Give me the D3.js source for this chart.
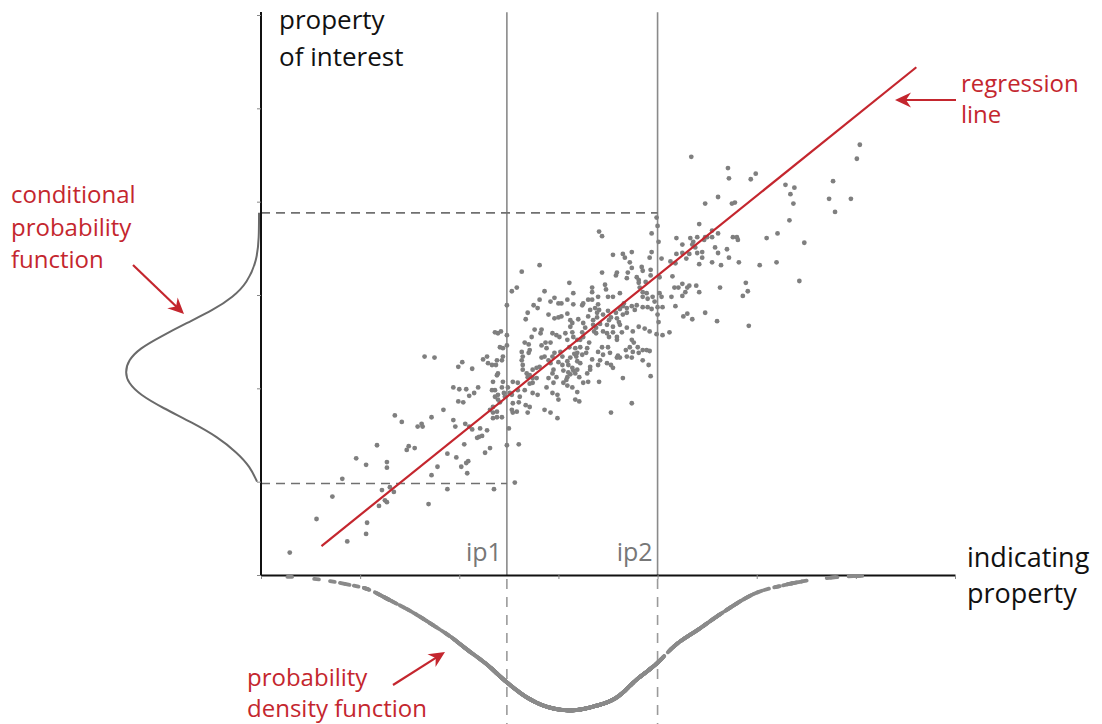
<!DOCTYPE html>
<html>
<head>
<meta charset="utf-8">
<script src="https://cdn.jsdelivr.net/npm/d3@7"></script>
<style>
  html, body { margin: 0; padding: 0; background: #fff; }
  svg { display: block; font-family: "Open Sans", "Noto Sans", sans-serif; }
</style>
</head>
<body>
<svg id="chart" width="1102" height="724"></svg>
<script>
// tick positions (unlabelled) on both axes
const xTicks = [0, 1, 2, 3, 4, 5, 6, 7];
const yTicks = [0, 1, 2, 3, 4, 5, 6];

// indicating property values ip1 / ip2
const ipLabels = ['ip1', 'ip2'];
const ipValues = [2.48, 4.00];

// bounds of the conditional distribution (property of interest)
const condBounds = [0.98, 3.88];

// regression line end points [x, y]
const regLine = [[0.61, 0.31], [6.61, 5.44]];

// conditional probability function: [depth (x, negative), y]
const condCurve = [
  [-0.02, 3.88], [-0.02, 3.62], [-0.04, 3.37], [-0.14, 3.13], [-0.28, 2.98],
  [-0.48, 2.84], [-0.75, 2.70], [-1.02, 2.55], [-1.22, 2.43], [-1.34, 2.30],
  [-1.37, 2.17], [-1.34, 2.06], [-1.22, 1.93], [-0.99, 1.79], [-0.69, 1.63],
  [-0.44, 1.48], [-0.24, 1.31], [-0.11, 1.16], [-0.04, 1.00]
];

// probability density function below the x axis: x and (negative) height
const pdfX = [0.29, 0.60, 0.87, 1.07, 1.30, 1.53, 1.74, 1.91, 2.08, 2.28, 2.48, 2.68, 2.88,
  3.12, 3.35, 3.59, 3.79, 4.00, 4.16, 4.43, 4.66, 5.00, 5.27, 5.57, 5.84, 6.04];
const pdfY = [-0.02, -0.05, -0.10, -0.15, -0.27, -0.40, -0.54, -0.66, -0.80, -0.96, -1.15, -1.31, -1.41,
  -1.45, -1.41, -1.31, -1.12, -0.94, -0.77, -0.57, -0.40, -0.19, -0.11, -0.05, -0.02, -0.01];

// scatter samples [indicating property, property of interest]
const samples = [
  [1.65,2.34],[1.75,2.33],[1.99,2.23],[2.03,2.28],[2.13,2.21],[2.24,2.31],
  [1.94,2.01],[2.00,1.99],[2.07,1.99],[2.15,1.95],[2.19,2.01],[1.99,1.86],[2.04,1.85],[2.10,1.92],
  [1.84,1.77],[1.94,1.66],[1.96,1.59],[2.06,1.62],[2.10,1.59],[1.72,1.69],[1.35,1.71],[1.42,1.64],
  [1.58,1.59],[1.62,1.62],[1.63,1.59],[2.13,1.56],[2.21,1.57],[2.18,1.47],[2.20,1.48],[2.23,1.49],
  [2.28,1.55],[2.50,1.57],[2.05,1.40],[2.31,1.36],[2.26,1.31],[2.48,1.39],[2.60,1.40],
  [1.17,1.39],[1.47,1.34],[1.49,1.38],[1.55,1.36],[0.96,1.25],[1.06,1.18],[1.27,1.21],[1.27,1.15],
  [1.88,1.30],[1.97,1.26],[2.02,1.16],[2.07,1.20],[2.09,1.22],[2.08,1.09],[1.78,1.16],[1.72,1.07],
  [0.82,1.03],[0.72,0.84],[1.22,0.91],[1.25,0.80],[1.27,0.78],[1.30,0.94],[1.34,0.89],[1.19,0.74],
  [1.88,0.92],[1.69,0.76],[2.35,0.92],[2.56,0.99],[0.56,0.60],[1.07,0.56],[1.06,0.44],[0.87,0.36],
  [0.29,0.24],[2.48,2.89],[2.42,2.61],
  [3.99,3.83],[4.00,3.74],[3.41,3.68],[3.44,3.63],[3.94,3.66],[4.01,3.57],[2.81,3.32],[2.63,3.25],
  [3.55,3.43],[3.65,3.44],[3.74,3.46],[3.67,3.40],[3.94,3.46],[3.92,3.40],[4.04,3.39],
  [3.72,3.35],[3.74,3.29],[3.70,3.24],[3.84,3.30],[3.85,3.26],[3.93,3.27],[3.93,3.21],[4.02,3.19],
  [3.44,3.24],[3.58,3.21],[3.59,3.24],[3.69,3.18],[3.79,3.19],[3.81,3.16],[3.81,3.13],[3.88,3.14],
  [3.11,3.13],[3.15,3.02],[2.53,3.04],[2.58,3.08],
  [3.34,3.08],[3.34,3.03],[3.40,2.98],[3.47,3.11],[3.48,3.06],[3.50,2.98],[3.55,2.98],[3.62,3.02],
  [3.82,3.08],[3.85,3.03],[3.89,3.02],[3.85,2.98],[3.90,2.96],[3.95,2.98],[3.97,2.93],[4.02,3.02],
  [4.04,2.98],[4.00,2.87],[4.05,2.87],[2.86,3.04],
  [2.81,2.95],[2.75,2.89],[2.79,2.86],[2.69,2.81],[2.67,2.74],[2.92,2.93],[2.96,2.97],[3.00,2.91],
  [3.03,2.91],[3.09,2.95],[3.15,2.90],[3.24,2.89],[3.25,2.91],[3.30,2.95],[3.34,2.95],[3.40,2.90],
  [2.90,2.79],[2.96,2.75],[3.00,2.76],[3.03,2.77],[3.09,2.80],[3.14,2.70],[3.20,2.74],
  [3.30,2.77],[3.32,2.84],[3.37,2.86],[3.39,2.81],[3.39,2.76],[3.41,2.84],[3.45,2.79],[3.50,2.83],
  [3.53,2.76],[3.58,2.81],[3.62,2.85],[3.65,2.88],[3.69,2.86],[3.69,2.81],[3.66,2.91],[3.74,2.88],
  [3.77,2.84],[3.79,2.89],[3.85,2.87],[3.90,2.87],[3.94,2.85],[4.00,2.79],[4.01,2.71],
  [3.59,2.75],[3.61,2.71],[3.62,2.68],[3.65,2.79],
  [3.25,2.70],[3.27,2.65],[3.35,2.73],[3.35,2.68],[3.36,2.61],[3.38,2.65],[3.38,2.59],[3.42,2.69],
  [3.45,2.61],[3.49,2.68],[3.51,2.73],[3.55,2.66],
  [3.49,2.59],[3.51,2.55],[3.55,2.60],[3.59,2.55],[3.59,2.52],[3.64,2.60],[3.69,2.65],[3.75,2.61],
  [3.81,2.66],[3.87,2.64],[3.92,2.61],[3.99,2.58],[4.05,2.57],
  [3.74,2.52],[3.76,2.49],[3.80,2.44],[3.72,2.44],[3.68,2.41],[3.75,2.39],[3.81,2.38],[3.85,2.41],
  [3.89,2.41],[3.92,2.40],[3.69,2.34],[3.74,2.33],
  [3.50,2.44],[3.44,2.44],[3.45,2.36],[3.42,2.30],[3.52,2.38],[3.40,2.39],
  [3.29,2.43],[3.31,2.49],[3.28,2.38],[3.24,2.36],[3.34,2.31],[3.32,2.23],[3.40,2.25],
  [3.49,2.27],[3.53,2.25],[3.55,2.22],[3.60,2.35],[3.59,2.33],[3.62,2.33],
  [3.85,2.30],[3.91,2.25],[3.93,2.13],[3.65,2.11],[3.74,1.84],[3.53,1.74],
  [3.12,2.73],[3.12,2.66],[3.14,2.60],[3.15,2.55],[3.19,2.52],[3.22,2.52],[3.24,2.60],[3.25,2.55],[3.22,2.44],
  [3.07,2.59],[3.09,2.52],[3.11,2.44],[3.17,2.43],[3.19,2.38],[3.16,2.37],[3.18,2.34],[3.12,2.33],
  [3.09,2.29],[3.19,2.29],[3.22,2.27],[3.19,2.20],[3.15,2.19],[3.17,2.16],[3.21,2.12],[3.12,2.15],
  [3.09,2.12],[3.10,2.17],[3.14,2.22],[3.10,2.25],
  [3.04,2.34],[3.02,2.39],[3.00,2.28],[3.04,2.25],[3.05,2.19],[3.08,2.09],[3.05,2.06],[3.09,2.03],
  [3.14,2.01],[3.19,1.96],[3.25,2.06],[3.30,2.07],[3.29,2.16],[3.32,2.20],[3.41,2.07],
  [3.17,1.88],[3.21,1.86],
  [2.98,2.12],[2.95,2.20],[2.92,2.27],[2.94,2.34],[2.96,2.38],[2.92,2.49],[2.94,2.59],[2.98,2.57],
  [3.01,2.55],[2.87,2.49],[2.83,2.46],
  [2.88,2.43],[2.86,2.34],[2.90,2.30],[2.83,2.33],[2.81,2.23],[2.78,2.22],[2.74,2.20],
  [2.73,2.55],[2.76,2.63],[2.82,2.59],[2.83,2.63],[2.71,2.41],[2.70,2.38],
  [2.64,2.34],[2.63,2.30],[2.64,2.25],[2.63,2.39],[2.66,2.49],[2.70,2.47],
  [2.64,2.20],[2.68,2.16],[2.71,2.14],[2.69,2.12],[2.74,2.11],[2.78,2.11],[2.74,2.06],[2.71,2.05],
  [2.90,2.11],[2.94,2.16],[2.95,2.06],[2.88,2.01],[2.94,1.95],[2.99,1.93],[3.00,1.88],[2.99,1.68],
  [2.92,1.74],[2.86,1.77],[2.79,1.93],[2.74,1.95],[2.71,1.80],[2.69,1.74],[2.67,1.82],[2.60,1.85],
  [2.54,1.84],[2.53,1.77],[2.58,1.75],[2.54,1.74],[2.61,1.91],[2.66,1.98],[2.59,2.06],[2.59,1.98],
  [2.54,2.07],[2.49,2.01],[2.51,1.95],[2.53,1.93],
  [2.48,2.57],[2.48,2.46],[2.44,2.34],[2.43,2.30],[2.38,2.30],[2.37,2.25],[2.33,2.25],[2.29,2.27],
  [2.28,2.34],[2.39,2.59],[2.36,2.60],[2.41,2.44],[2.44,2.43],[2.39,2.16],[2.38,2.14],[2.34,2.07],
  [2.33,1.98],[2.36,1.98],[2.43,2.01],[2.44,2.07],[2.45,1.95],[2.46,1.91],[2.39,1.93],[2.36,1.91],
  [2.39,1.88],[2.41,1.85],[2.34,1.80],[2.31,1.77],[2.34,1.74],[2.38,1.75],[2.43,1.69],[2.38,1.69],
  [2.34,1.68],
  [4.34,4.48],[4.71,4.36],[4.72,4.25],[4.94,4.24],[4.99,4.30],[4.61,4.05],[4.48,3.98],[4.75,3.98],
  [4.78,3.99],[4.42,3.76],
  [4.55,3.69],[4.61,3.66],[4.50,3.62],[4.47,3.59],[4.48,3.62],[4.55,3.62],[4.40,3.62],[4.33,3.61],
  [4.36,3.57],[4.35,3.54],[4.38,3.51],[4.19,3.61],[4.25,3.54],
  [4.76,3.62],[4.80,3.62],[4.81,3.59],[4.58,3.51],[4.61,3.45],[4.70,3.49],[4.72,3.40],
  [4.45,3.46],[4.45,3.40],[4.40,3.45],[4.32,3.44],[4.29,3.39],[4.25,3.45],[4.19,3.44],[4.13,3.36],
  [4.18,3.34],[4.42,3.33],[4.55,3.35],[4.64,3.32],
  [4.82,3.35],[5.10,3.61],[5.21,3.66],[5.03,3.32],[5.20,3.35],
  [5.29,4.18],[5.34,4.08],[5.38,4.15],[5.37,3.98],[5.33,3.80],
  [5.77,4.22],[5.73,4.03],[5.79,3.89],[5.95,4.03],[6.04,4.61],[6.01,4.46],[5.48,3.56],[5.43,3.15],
  [4.15,3.20],[4.17,3.08],[4.21,3.08],[4.14,2.98],[4.18,2.88],[4.25,3.12],[4.28,3.03],[4.30,3.08],
  [4.32,3.10],[4.25,2.99],[4.39,3.10],[4.42,3.03],[4.63,3.08],[4.48,2.81],[4.26,2.77],[4.30,2.80],
  [4.35,2.74],[4.60,2.72],[4.89,3.13],[4.91,3.04],[4.86,2.99],[4.92,2.67],[4.12,2.60]
];

const W = 1102, H = 724;
const red = '#c4262e';
const svg = d3.select('#chart');

const x = d3.scaleLinear().domain([0, 7]).range([261, 955]);
const y = d3.scaleLinear().domain([0, 6]).range([575, 15]);

// vertical lines at ip1 / ip2 (solid above the axis, dashed below)
const ipG = svg.append('g');
ipG.selectAll('.ip-solid')
  .data(ipValues)
  .enter()
  .append('line')
  .attr('x1', d => x(d)).attr('x2', d => x(d))
  .attr('y1', y(0)).attr('y2', y(6.03))
  .attr('stroke', '#8a8a8a')
  .attr('stroke-width', 1.6);

ipG.selectAll('.ip-dash')
  .data(ipValues)
  .enter()
  .append('line')
  .attr('x1', d => x(d)).attr('x2', d => x(d))
  .attr('y1', y(0) + 4).attr('y2', H)
  .attr('stroke', '#9a9a9a')
  .attr('stroke-width', 1.6)
  .attr('stroke-dasharray', '10,8');

ipG.selectAll('.ip-label')
  .data(ipValues)
  .enter()
  .append('text')
  .attr('x', d => x(d) - 5)
  .attr('y', 561)
  .attr('text-anchor', 'end')
  .attr('font-size', 25)
  .attr('fill', '#777')
  .text((d, i) => ipLabels[i]);

// dashed horizontal bounds
svg.selectAll('.bound')
  .data(condBounds)
  .enter()
  .append('line')
  .attr('x1', x(0)).attr('x2', (d, i) => x(ipValues[i]))
  .attr('y1', d => y(d)).attr('y2', d => y(d))
  .attr('stroke', '#707070')
  .attr('stroke-width', 1.6)
  .attr('stroke-dasharray', '9,6');

// axes
const xAxis = svg.append('g')
  .attr('transform', `translate(0,${y(0)})`)
  .call(d3.axisBottom(x).tickValues(xTicks).tickSize(4).tickSizeOuter(0).tickFormat(''));
const yAxis = svg.append('g')
  .attr('transform', `translate(${x(0)},0)`)
  .call(d3.axisLeft(y).tickValues(yTicks).tickSize(4).tickSizeOuter(0).tickFormat(''));
[xAxis, yAxis].forEach(g => {
  g.select('.domain').attr('stroke', '#111').attr('stroke-width', 2);
  g.selectAll('.tick line').attr('stroke', '#888').attr('stroke-width', 1);
});
yAxis.select('.domain').attr('d', `M0,${y(0) + 1}V12`);

// conditional probability function
svg.append('path')
  .datum(condCurve)
  .attr('d', d3.line().x(d => x(d[0])).y(d => y(d[1])).curve(d3.curveBasis))
  .attr('fill', 'none')
  .attr('stroke', '#6a6a6a')
  .attr('stroke-width', 2);

// scatter points
svg.append('g')
  .selectAll('circle')
  .data(samples)
  .enter()
  .append('circle')
  .attr('cx', d => x(d[0]))
  .attr('cy', d => y(d[1]))
  .attr('r', 2.4)
  .attr('fill', '#7f7f7f');

// regression line
svg.append('line')
  .attr('x1', x(regLine[0][0])).attr('y1', y(regLine[0][1]))
  .attr('x2', x(regLine[1][0])).attr('y2', y(regLine[1][1]))
  .attr('stroke', red)
  .attr('stroke-width', 2.2);

// density function: smooth the read-off pdf, then project every sample onto it as a short dash
const pdfPath = svg.append('path')
  .datum(d3.zip(pdfX, pdfY))
  .attr('d', d3.line().x(d => x(d[0])).y(d => y(d[1])).curve(d3.curveMonotoneX))
  .attr('fill', 'none')
  .attr('stroke', 'none');
const node = pdfPath.node();
const total = node.getTotalLength();
const px = [], py = [];
for (let l = 0; l <= total; l += 1) {
  const p = node.getPointAtLength(l);
  if (px.length && p.x <= px[px.length - 1]) continue;
  px.push(p.x); py.push(p.y);
}
const pdfAt = d3.scaleLinear().domain(px).range(py).clamp(true);

svg.append('g')
  .selectAll('line')
  .data(samples)
  .enter()
  .append('line')
  .each(function (d) {
    const cx = x(d[0]), cy = pdfAt(cx);
    const dy = pdfAt(cx + 2) - pdfAt(cx - 2);
    const len = Math.hypot(4, dy);
    const ux = 4 / len * 2.4, uy = dy / len * 2.4;
    d3.select(this)
      .attr('x1', cx - ux).attr('y1', cy - uy)
      .attr('x2', cx + ux).attr('y2', cy + uy);
  })
  .attr('stroke', '#8a8a8a')
  .attr('stroke-width', 3.8)
  .attr('stroke-linecap', 'round');

// text labels
function label(lines, x0, y0, size, color, lh) {
  const t = svg.append('text')
    .attr('x', x0).attr('y', y0)
    .attr('font-size', size)
    .attr('fill', color);
  lines.forEach((s, i) => {
    t.append('tspan').attr('x', x0).attr('dy', i === 0 ? 0 : lh).text(s);
  });
}
label(['property', 'of interest'], 279, 29, 26, '#111', 37);
label(['indicating', 'property'], 967, 567, 27, '#111', 36);
label(['regression', 'line'], 961, 92, 24, red, 31);
label(['conditional', 'probability', 'function'], 11, 203, 24, red, 32.5);
label(['probability', 'density function'], 247, 686, 24, red, 31);

// red arrows
function arrow(x1, y1, x2, y2) {
  const a = Math.atan2(y2 - y1, x2 - x1);
  const bx = x2 - Math.cos(a) * 10, by = y2 - Math.sin(a) * 10;
  svg.append('line')
    .attr('x1', x1).attr('y1', y1).attr('x2', bx).attr('y2', by)
    .attr('stroke', red).attr('stroke-width', 2.2);
  svg.append('path')
    .attr('d', 'M0,0L-16,-7.5L-11,0L-16,7.5Z')
    .attr('transform', `translate(${x2},${y2}) rotate(${a * 180 / Math.PI})`)
    .attr('fill', red);
}
arrow(956, 100, 895, 100);
arrow(133, 265, 184, 314);
arrow(393, 685, 445, 652);
</script>
</body>
</html>
